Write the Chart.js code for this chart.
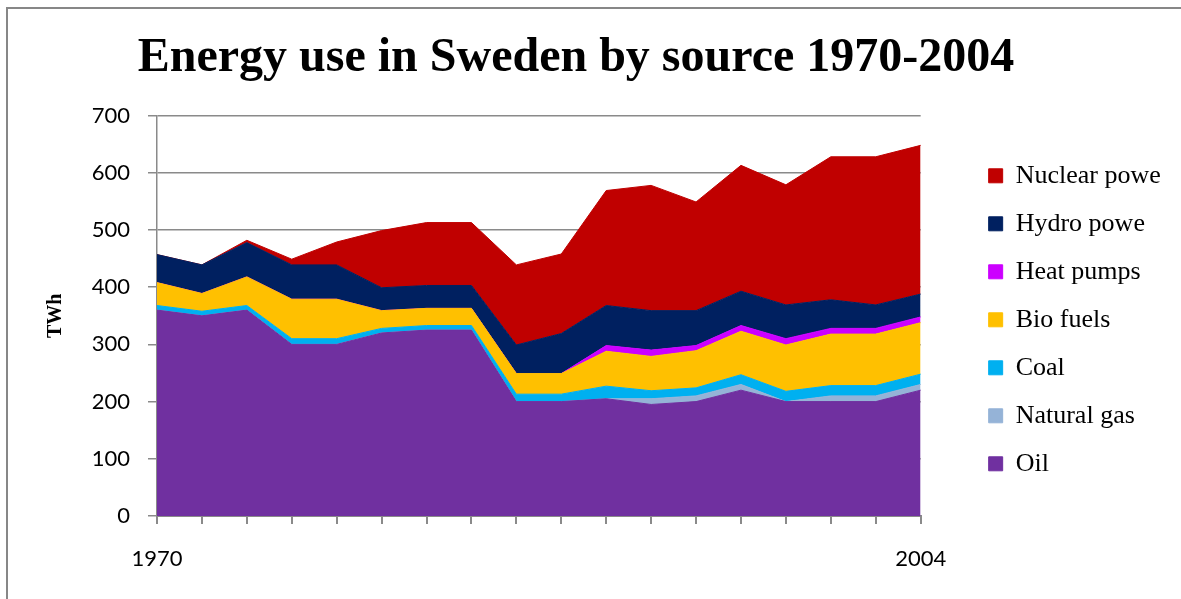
<!DOCTYPE html>
<html lang="en">
  <head>
    <meta charset="UTF-8" />
    <title>Energy use in Sweden by source 1970-2004</title>
    <style>
      body {
        margin: 0;
        background: #fff;
        overflow: hidden;
      }
      .frame {
        position: absolute;
        left: 6px;
        top: 7px;
        width: 1200px;
        height: 620px;
        border: 2px solid #878787;
      }
      .chart-box {
        position: absolute;
        left: -10px;
        top: 0;
        width: 1191px;
        height: 599px;
      }
    </style>
  </head>
  <body>
    <div class="frame"></div>
    <div class="chart-box">
      <canvas id="energyChart"></canvas>
    </div>

    <script src="https://cdn.jsdelivr.net/npm/chart.js@4/dist/chart.umd.min.js"></script>
    <script>
      // years, every second year
      const years = [
        1970, 1972, 1974, 1976, 1978, 1980, 1982, 1984, 1986,
        1988, 1990, 1992, 1994, 1996, 1998, 2000, 2002, 2004,
      ];

      // TWh per source, bottom of the stack first
      const oil = [360, 350, 360, 300, 300, 320, 325, 325, 200, 200, 205, 195, 200, 220, 200, 200, 200, 220];
      const naturalGas = [0, 0, 0, 0, 0, 0, 0, 0, 0, 0, 0, 10, 10, 10, 0, 10, 10, 10];
      const coal = [8, 8, 8, 10, 10, 8, 8, 8, 13, 13, 22, 14, 14, 17, 18, 18, 18, 18];
      const bioFuels = [40, 31, 50, 69, 69, 31, 30, 30, 36, 36, 61, 60, 65, 76, 81, 90, 90, 90];
      const heatPumps = [0, 0, 0, 0, 0, 0, 0, 0, 0, 0, 10, 11, 9, 10, 11, 10, 10, 10];
      const hydroPower = [49, 50, 60, 60, 60, 40, 40, 40, 50, 70, 70, 69, 61, 60, 59, 50, 41, 40];
      const nuclearPower = [0, 0, 4, 10, 40, 100, 110, 110, 140, 139, 201, 219, 190, 220, 210, 250, 259, 260];

      const yTicks = [0, 100, 200, 300, 400, 500, 600, 700];

      const gray = "#8a8a8a";
      const serif = "'Liberation Serif', 'Times New Roman', serif";
      const sans = "Lato, 'Open Sans', sans-serif";

      function area(label, data, color, fill) {
        return {
          label: label,
          data: data,
          backgroundColor: color,
          borderColor: color,
          borderWidth: 1,
          pointRadius: 0,
          tension: 0,
          fill: fill,
        };
      }

      new Chart(document.getElementById("energyChart"), {
        type: "line",
        data: {
          labels: years,
          datasets: [
            area("Oil", oil, "#7030A0", "origin"),
            area("Natural gas", naturalGas, "#95B3D7", "-1"),
            area("Coal", coal, "#00B0F0", "-1"),
            area("Bio fuels", bioFuels, "#FFC000", "-1"),
            area("Heat pumps", heatPumps, "#CC00FF", "-1"),
            area("Hydro powe", hydroPower, "#002060", "-1"),
            area("Nuclear powe", nuclearPower, "#C00000", "-1"),
          ],
        },
        options: {
          responsive: true,
          maintainAspectRatio: false,
          animation: false,
          layout: { padding: { left: 0, right: 19, top: 0, bottom: 0 } },
          plugins: {
            title: {
              display: true,
              text: "Energy use in Sweden by source 1970-2004",
              color: "#000",
              font: { family: serif, size: 48, weight: "bold" },
              padding: { top: 30, bottom: 28 },
            },
            legend: {
              position: "right",
              fullSize: false,
              reverse: true,
              title: { display: true, text: " ", font: { size: 1 }, padding: 3.4 },
              labels: {
                color: "#000",
                font: { family: serif, size: 26 },
                boxWidth: 14,
                boxHeight: 14,
                padding: 22,
              },
            },
            tooltip: { enabled: false },
          },
          scales: {
            x: {
              grid: {
                drawOnChartArea: false,
                drawTicks: true,
                tickLength: 8,
                color: gray,
                lineWidth: 2,
              },
              border: { color: gray, width: 2 },
              ticks: {
                autoSkip: false,
                maxRotation: 0,
                padding: 22,
                color: "#000",
                font: { family: sans, size: 22 },
                callback: function (val, i) {
                  return i === 0 || i === years.length - 1 ? this.getLabelForValue(val) : "";
                },
              },
              afterFit: function (scale) {
                scale.height = 83;
              },
            },
            y: {
              stacked: true,
              min: yTicks[0],
              max: yTicks[yTicks.length - 1],
              afterBuildTicks: function (scale) {
                scale.ticks = yTicks.map((v) => ({ value: v }));
              },
              grid: { color: gray, lineWidth: 1.5, tickLength: 9 },
              border: { color: gray, width: 1.5 },
              ticks: {
                padding: 18,
                color: "#000",
                font: { family: sans, size: 22 },
              },
              title: {
                display: true,
                text: "TWh",
                color: "#000",
                font: { family: serif, size: 20, weight: "bold" },
                padding: { top: 54, bottom: 0 },
              },
              afterFit: function (scale) {
                scale.width = 167;
              },
            },
            // empty right axis, only keeps the gap between plot and legend
            yGap: {
              position: "right",
              display: true,
              grid: { display: false },
              border: { display: false },
              ticks: { display: false },
              afterFit: function (scale) {
                scale.width = 46;
              },
            },
          },
        },
      });
    </script>
  </body>
</html>
